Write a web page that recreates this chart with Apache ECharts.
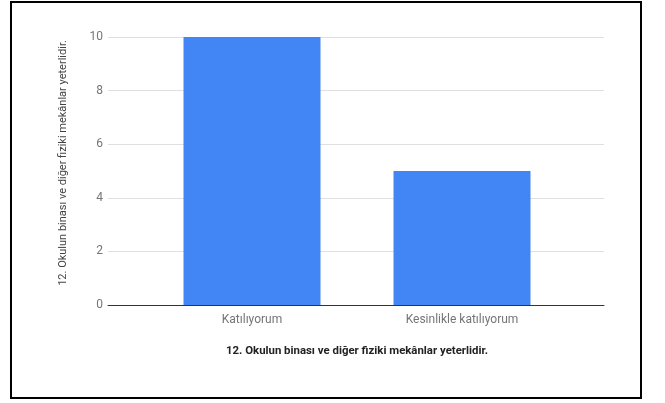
<!DOCTYPE html>
<html>
<head>
<meta charset="utf-8">
<script src="https://cdn.jsdelivr.net/npm/echarts@6/dist/echarts.min.js"></script>
<style>
  html, body { margin: 0; padding: 0; background: #fff; }
  #chart { width: 665px; height: 403px; }
</style>
</head>
<body>
<div id="chart"></div>
<script>
// data
const categories = ['Katılıyorum', 'Kesinlikle katılıyorum'];
const values = [10, 5];
const yTicks = { min: 0, max: 10, interval: 2 };
const axisTitle = '12. Okulun binası ve diğer fiziki mekânlar yeterlidir.';

const chart = echarts.init(document.getElementById('chart'));
const font = 'Roboto, Arial, sans-serif';

const option = {
    animation: false,
    textStyle: { fontFamily: font },
    graphic: [{
        type: 'rect',
        shape: { x: 11, y: 2, width: 630, height: 396 },
        style: { fill: 'none', stroke: '#000', lineWidth: 2 },
        silent: true
    }],
    grid: [
        // outer grid: gridlines + value axis, spans the full plot width
        { left: 108, right: 61, top: 37, bottom: 98 },
        // inner grid: where the bars sit
        { left: 147, right: 98, top: 37, bottom: 98 }
    ],
    xAxis: [
        {
            gridIndex: 0,
            type: 'value',
            min: 0,
            max: 1,
            axisLine: { show: true, lineStyle: { color: '#333', width: 1 } },
            axisTick: { show: false },
            axisLabel: { show: false },
            splitLine: { show: false }
        },
        {
            gridIndex: 1,
            type: 'category',
            data: categories,
            axisLine: { show: false },
            axisTick: { show: false },
            axisLabel: { color: '#757575', fontSize: 12, margin: 9, fontFamily: font },
            name: axisTitle,
            nameLocation: 'middle',
            nameGap: 41,
            nameTextStyle: { color: '#222', fontSize: 11.4, fontWeight: 'bold', fontFamily: font }
        }
    ],
    yAxis: [
        {
            gridIndex: 0,
            type: 'value',
            min: yTicks.min,
            max: yTicks.max,
            interval: yTicks.interval,
            axisLine: { show: false },
            axisTick: { show: false },
            axisLabel: { color: '#757575', fontSize: 12, margin: 5, fontFamily: font },
            splitLine: { lineStyle: { color: '#e0e0e0', width: 1 } },
            name: axisTitle,
            nameLocation: 'middle',
            nameGap: 39,
            nameTextStyle: { color: '#444', fontSize: 11, fontFamily: font, padding: [0, 0, 0, 16] }
        },
        {
            gridIndex: 1,
            type: 'value',
            min: yTicks.min,
            max: yTicks.max,
            show: false
        }
    ],
    series: [{
        type: 'bar',
        xAxisIndex: 1,
        yAxisIndex: 1,
        data: values,
        barWidth: 137,
        itemStyle: { color: '#4285f4' }
    }]
};

chart.setOption(option);
</script>
</body>
</html>
